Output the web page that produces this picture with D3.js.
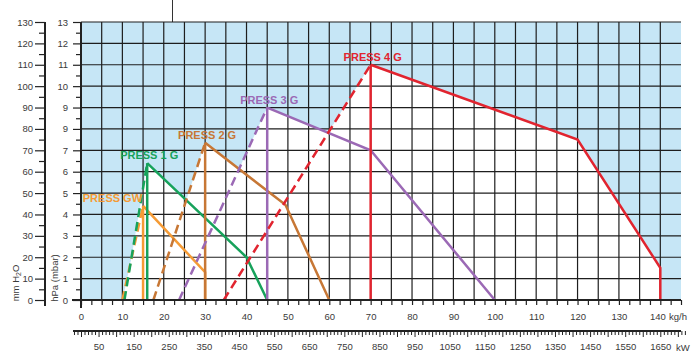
<!DOCTYPE html>
<html><head><meta charset="utf-8">
<script src="https://cdn.jsdelivr.net/npm/d3@7"></script>
<style>
body{margin:0;background:#fff}
svg{display:block}
text{font-family:"Liberation Sans",Arial,Helvetica,sans-serif}
</style>
</head><body>
<svg id="chart" width="700" height="356"></svg>
<script>
// ---- data ----
const seriesNames = ["PRESS GW", "PRESS 1 G", "PRESS 2 G", "PRESS 3 G", "PRESS 4 G"];
const seriesColors = ["#f59b35", "#17a25b", "#c77735", "#9b69b5", "#e1242f"];
const ignitionStartKgh = [10, 10.5, 17.5, 23.7, 34.5];   // where dashed ignition line meets 0
const minFlowKgh = [15, 16, 30, 45, 70];                  // vertical minimum-output line
const envelopeKgh = [[15, 30, 30], [16, 40, 45], [30, 49.4, 60], [45, 70, 100], [70, 120, 140, 140]];
const envelopeHpa = [[4.4, 1.3, 0], [6.4, 2.0, 0], [7.35, 4.45, 0], [9.0, 7.0, 0], [11.0, 7.5, 1.5, 0]];
const kghTickLabels = d3.range(0, 141, 10);
const kwTickLabels = d3.range(50, 1651, 100);
const hpaTickValues = d3.range(0, 14, 1);
const hpaTickLabels = ["0", "1", "2", "3", "4", "5", "6", "7", "9", "9", "10", "11", "12", "13"];
const mmTickValues = d3.range(0, 131, 10);

// ---- layout ----
const svg = d3.select("#chart");
const x = d3.scaleLinear().domain([0, 145]).range([81, 681]);
const y = d3.scaleLinear().domain([0, 13]).range([300, 22]);
const mm = d3.scaleLinear().domain([0, 130]).range([300, 22]);
const kw = d3.scaleLinear().domain([0, 1650]).range([x(0), x(140)]);
const tickColor = "#222";
const labelColor = "#3a3a3a";

// artifact line at the very top
svg.append("line").attr("x1", 172.5).attr("x2", 172.5).attr("y1", 0).attr("y2", 22)
  .attr("stroke", "#333").attr("stroke-width", 1);

// background
svg.append("rect").attr("x", x(0)).attr("y", y(13)).attr("width", x(145) - x(0)).attr("height", y(0) - y(13))
  .attr("fill", "#c6e6f6");

// white working fields
const fields = seriesNames.map((n, i) => {
  const pts = [[ignitionStartKgh[i], 0]];
  envelopeKgh[i].forEach((k, j) => pts.push([k, envelopeHpa[i][j]]));
  return pts;
});
svg.append("g").selectAll("path").data(fields).join("path")
  .attr("d", d => d3.line().x(p => x(p[0])).y(p => y(p[1]))(d) + "Z")
  .attr("fill", "#fff");

// grid
const grid = svg.append("g").attr("stroke", "#1e1e1e").attr("stroke-width", 1.2);
grid.selectAll("line.v").data(d3.range(5, 145, 5)).join("line").attr("class", "v")
  .attr("x1", d => x(d)).attr("x2", d => x(d)).attr("y1", y(0)).attr("y2", y(13));
grid.selectAll("line.h").data(d3.range(1, 14, 1)).join("line").attr("class", "h")
  .attr("x1", x(0)).attr("x2", x(145)).attr("y1", d => y(d)).attr("y2", d => y(d));

// curves
const curves = svg.append("g").attr("fill", "none").attr("stroke-width", 2.5);
seriesNames.forEach((name, i) => {
  const c = seriesColors[i];
  const peak = envelopeHpa[i][0];
  curves.append("line")
    .attr("x1", x(ignitionStartKgh[i])).attr("y1", y(0))
    .attr("x2", x(minFlowKgh[i])).attr("y2", y(peak))
    .attr("stroke", c).attr("stroke-dasharray", "9,5");
  curves.append("line")
    .attr("x1", x(minFlowKgh[i])).attr("y1", y(0))
    .attr("x2", x(minFlowKgh[i])).attr("y2", y(peak))
    .attr("stroke", c);
  curves.append("path")
    .attr("d", d3.line().x(p => x(p[0])).y(p => y(p[1]))(envelopeKgh[i].map((k, j) => [k, envelopeHpa[i][j]])))
    .attr("stroke", c).attr("stroke-linejoin", "miter");
  const anchorEnd = i === 0;
  svg.append("text")
    .attr("x", x(minFlowKgh[i]) + (anchorEnd ? -1 : 2))
    .attr("y", y(peak) - 4)
    .attr("text-anchor", anchorEnd ? "end" : "middle")
    .attr("font-size", 11).attr("font-weight", "bold")
    .attr("fill", c).text(name);
});

// ---- kg/h axis ----
const xAxis = d3.axisBottom(x)
  .tickValues(d3.range(0, 145.1, 2.5))
  .tickSize(5).tickPadding(8)
  .tickFormat(d => (d % 10 === 0 && d <= 140) ? d : "");
const gx = svg.append("g").attr("transform", `translate(0,${y(0)})`).call(xAxis);
gx.select(".domain").remove();
gx.selectAll("line").attr("stroke", tickColor).attr("stroke-width", 1.2);
gx.selectAll("text").attr("font-size", 9.5).attr("fill", labelColor);
gx.selectAll(".tick text").filter(d => d === 140).attr("text-anchor", "end").attr("dx", 5);
svg.append("line").attr("x1", 72).attr("x2", x(145)).attr("y1", y(0)).attr("y2", y(0))
  .attr("stroke", tickColor).attr("stroke-width", 2);
svg.append("text").attr("x", 669).attr("y", 319.5).attr("font-size", 9.5).attr("fill", labelColor).text("kg/h");

// ---- kW axis ----
const kwAxis = d3.axisBottom(kw)
  .tickValues(d3.range(-20, 1721, 10))
  .tickSize(4).tickPadding(8)
  .tickFormat(d => kwTickLabels.includes(d) ? d : "");
const gk = svg.append("g").attr("transform", "translate(0,331)").call(kwAxis);
gk.select(".domain").remove();
gk.selectAll(".tick line").attr("stroke", tickColor).attr("stroke-width", 1)
  .attr("y2", d => d % 50 === 0 ? 6 : 4);
gk.selectAll("text").attr("font-size", 9.5).attr("fill", labelColor);
svg.append("line").attr("x1", 73).attr("x2", 681).attr("y1", 331).attr("y2", 331)
  .attr("stroke", tickColor).attr("stroke-width", 2);
svg.append("text").attr("x", 676).attr("y", 351).attr("font-size", 9.5).attr("fill", labelColor).text("kW");

// ---- hPa axis ----
const hpaAxis = d3.axisLeft(y)
  .tickValues(d3.range(0, 13.01, 0.5))
  .tickSize(5).tickPadding(5)
  .tickFormat(d => Number.isInteger(d) ? hpaTickLabels[hpaTickValues.indexOf(d)] : "");
const gh = svg.append("g").attr("transform", `translate(${x(0)},0)`).call(hpaAxis);
gh.select(".domain").remove();
gh.selectAll(".tick line").attr("stroke", tickColor).attr("stroke-width", 1.2)
  .attr("x2", d => Number.isInteger(d) ? -8 : -5);
gh.selectAll("text").attr("font-size", 9.5).attr("fill", labelColor).attr("x", -13);
svg.append("line").attr("x1", x(0)).attr("x2", x(0)).attr("y1", y(13)).attr("y2", 308)
  .attr("stroke", tickColor).attr("stroke-width", 2);

// ---- mm H2O axis ----
const mmAxis = d3.axisLeft(mm)
  .tickValues(d3.range(0, 130.1, 5))
  .tickSize(6).tickPadding(2)
  .tickFormat(d => mmTickValues.includes(d) ? d : "");
const gm = svg.append("g").attr("transform", "translate(45,0)").call(mmAxis);
gm.select(".domain").remove();
gm.selectAll(".tick line").attr("stroke", tickColor).attr("stroke-width", 1.2)
  .attr("x2", d => d % 10 === 0 ? -10 : -6);
gm.selectAll("text").attr("font-size", 9.5).attr("fill", labelColor).attr("x", -12);
svg.append("line").attr("x1", 45).attr("x2", 45).attr("y1", mm(130)).attr("y2", 306)
  .attr("stroke", tickColor).attr("stroke-width", 2);

// ---- axis titles ----
const t1 = svg.append("text").attr("transform", "translate(18.5,283) rotate(-90)")
  .attr("text-anchor", "middle").attr("font-size", 9.5).attr("fill", labelColor);
t1.append("tspan").text("mm H");
t1.append("tspan").attr("font-size", 7).attr("dy", 2).text("2");
t1.append("tspan").attr("dy", -2).text("O");
svg.append("text").attr("transform", "translate(58,278) rotate(-90)")
  .attr("text-anchor", "middle").attr("font-size", 9.5).attr("fill", labelColor).text("hPa (mbar)");
</script>
</body></html>
